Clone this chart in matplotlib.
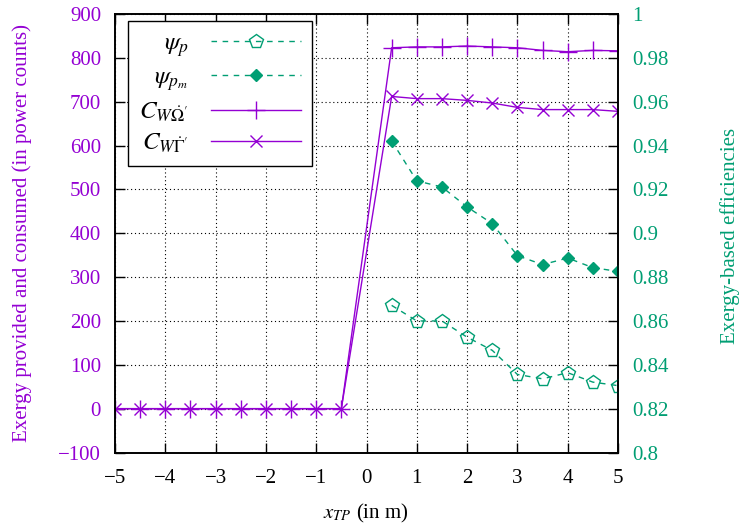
import matplotlib
matplotlib.use("Agg")
import matplotlib.pyplot as plt
from matplotlib.ticker import FuncFormatter, MultipleLocator

plt.rcParams['font.family'] = ['Liberation Serif', 'DejaVu Serif']
plt.rcParams['mathtext.fontset'] = 'stix'
plt.rcParams['font.size'] = 15

PURPLE = '#9400d3'
GREEN = '#009e73'

# data
x_neg = [-5, -4.5, -4, -3.5, -3, -2.5, -2, -1.5, -1, -0.5]
x_pos = [0.5, 1, 1.5, 2, 2.5, 3, 3.5, 4, 4.5, 5]
c_omega_pos = [823, 825, 825, 827, 825, 823, 817, 814, 817, 816]
c_gamma_pos = [712, 707, 707, 703, 697, 687, 682, 682, 682, 678]
c_zero = [0] * len(x_neg)
psi_p = [0.8671, 0.8600, 0.8600, 0.8526, 0.8466, 0.8356, 0.8336, 0.8364, 0.8321, 0.8305]
psi_pm = [0.9421, 0.9239, 0.9211, 0.9120, 0.9044, 0.8898, 0.8857, 0.8887, 0.8843, 0.8826]

x_all = x_neg + x_pos
c_omega = c_zero + c_omega_pos
c_gamma = c_zero + c_gamma_pos

W, H = 740, 527
fig = plt.figure(figsize=(W / 100, H / 100), dpi=100)
L, R, T, B = 115, 618, 14, 452.5
ax = fig.add_axes([L / W, 1 - B / H, (R - L) / W, (B - T) / H])
ax2 = ax.twinx()

ax.set_xlim(-5, 5)
ax.set_ylim(-100, 900)
ax2.set_ylim(0.8, 1.0)

ax.xaxis.set_major_locator(MultipleLocator(1))
ax.yaxis.set_major_locator(MultipleLocator(100))
ax2.yaxis.set_major_locator(MultipleLocator(0.02))
ax2.yaxis.set_major_formatter(FuncFormatter(lambda v, p: '%g' % round(v, 2)))

ax.grid(True, color='black', linestyle=(0, (1, 2.5)), linewidth=0.8)
ax.set_axisbelow(True)

h1, = ax2.plot(x_pos, psi_p, color=GREEN, linestyle=(0, (4, 4)), linewidth=1,
               marker='p', markersize=10, markerfacecolor='none', markeredgecolor=GREEN,
               markeredgewidth=1, label=r'$\psi_p$')
h2, = ax2.plot(x_pos, psi_pm, color=GREEN, linestyle=(0, (4, 4)), linewidth=1,
               marker='D', markersize=6.5, markerfacecolor=GREEN, markeredgecolor=GREEN,
               label=r'$\psi_{p_m}$')
h3, = ax.plot(x_all, c_omega, color=PURPLE, linewidth=1, marker='+', markersize=13,
              markeredgewidth=1, label=r"$C_{W\dot{\Omega}'}$")
h4, = ax.plot(x_all, c_gamma, color=PURPLE, linewidth=1, marker='x', markersize=9,
              markeredgewidth=1, label=r"$C_{W\dot{\Gamma}'}$")

ax.tick_params(axis='both', direction='in', length=7, width=1, top=True)
ax.tick_params(axis='y', color='black', labelcolor=PURPLE, right=False, pad=10)
ax.tick_params(axis='x', color='black', labelcolor='black', pad=12)
ax2.tick_params(axis='y', direction='in', length=7, width=1, color='black',
                labelcolor=GREEN, pad=10)

for a in (ax, ax2):
    for s in a.spines.values():
        s.set_linewidth(1.2)
        s.set_color('black')

fig.text(366 / W, 1 - 513 / H, r'$x_{TP}$ (in m)', ha='center', va='center')
fig.text(22 / W, 1 - 233 / H, 'Exergy provided and consumed (in power counts)',
         color=PURPLE, rotation=90, ha='center', va='center')
fig.text(730 / W, 1 - 236 / H, 'Exergy-based efficiencies', color=GREEN,
         rotation=90, ha='center', va='center')

leg = ax2.legend(handles=[h1, h2, h3, h4], loc='upper left',
                 bbox_to_anchor=((128 - L) / (R - L), 1 - (21 - T) / (B - T)),
                 borderaxespad=0, markerfirst=False, handlelength=3.6, fancybox=False,
                 framealpha=1, edgecolor='black', fontsize=18, labelspacing=0.3,
                 borderpad=0.45, handletextpad=0.9)
leg.get_frame().set_linewidth(1.0)

fig.savefig('out.png', dpi=100)
